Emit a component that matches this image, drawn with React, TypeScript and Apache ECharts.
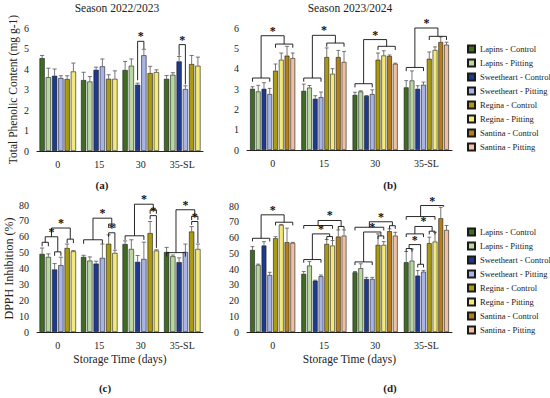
import React, { useEffect, useRef } from "react";
import * as echarts from "echarts";

const FONT = "Liberation Serif";

const categories = ["0", "15", "30", "35-SL"];
const seriesNames = [
  "Lapins - Control",
  "Lapins - Pitting",
  "Sweetheart - Control",
  "Sweetheart - Pitting",
  "Regina - Control",
  "Regina - Pitting",
  "Santina - Control",
  "Santina - Pitting",
];
const seriesColors = [
  "#3f6b22",
  "#b8d8a0",
  "#1d3a8f",
  "#a8b4e8",
  "#a99a12",
  "#f4ea78",
  "#b47f16",
  "#f2c0a0",
];

// Panel (a): Total phenolic content, season 2022/2023
const aLC = [4.53, 3.46, 3.95, 3.52];
const aLP = [3.6, 3.39, 4.16, 3.72];
const aSC = [3.67, 3.96, 3.23, 4.37];
const aSP = [3.56, 4.13, 4.67, 3.02];
const aRC = [3.51, 3.52, 3.8, 4.24];
const aRP = [3.88, 3.52, 3.85, 4.16];
const aLCe = [0.13, 0.38, 0.42, 0.16];
const aLPe = [0.44, 0.24, 0.33, 0.1];
const aSCe = [0.33, 0.13, 0.08, 0.24];
const aSPe = [0.11, 0.36, 0.29, 0.16];
const aRCe = [0.16, 0.2, 0.33, 0.42];
const aRPe = [0.41, 0.39, 0.11, 0.42];

// Panel (b): Total phenolic content, season 2023/2024
const bLC = [3.01, 2.91, 2.71, 3.08];
const bLP = [2.88, 3.07, 2.88, 3.42];
const bSC = [3.01, 2.52, 2.66, 3.01];
const bSP = [2.75, 2.6, 2.75, 3.21];
const bRC = [3.9, 4.57, 4.44, 4.49];
const bRP = [4.44, 3.75, 4.65, 4.92];
const bSaC = [4.64, 4.57, 4.62, 5.31];
const bSaP = [4.52, 4.33, 4.24, 5.18];
const bLCe = [0.1, 0.33, 0.13, 0.33];
const bLPe = [0.3, 0.1, 0.03, 0.47];
const bSCe = [0.3, 0.15, 0.02, 0.15];
const bSPe = [0.28, 0.25, 0.21, 0.13];
const bRCe = [0.33, 0.45, 0.33, 0.33];
const bRPe = [0.33, 0.25, 0.23, 0.15];
const bSaCe = [0.46, 0.33, 0.05, 0.25];
const bSaPe = [0.25, 0.52, 0.03, 0.12];

// Panel (c): DPPH inhibition, season 2022/2023
const cLC = [49.2, 47.3, 55.4, 50.4];
const cLP = [47.3, 45.0, 52.3, 47.7];
const cSC = [39.4, 43.1, 44.2, 44.0];
const cSP = [42.1, 46.7, 46.0, 50.4];
const cRC = [52.9, 55.6, 62.3, 63.3];
const cRP = [50.8, 49.8, 51.3, 52.3];
const cLCe = [3.7, 1.0, 2.0, 2.9];
const cLPe = [1.9, 2.3, 5.8, 0.8];
const cSCe = [3.7, 1.5, 4.0, 2.7];
const cSPe = [5.0, 8.7, 10.6, 5.0];
const cRCe = [2.5, 5.6, 7.3, 3.1];
const cRPe = [0.5, 1.7, 0.5, 3.1];

// Panel (d): DPPH inhibition, season 2023/2024
const dLC = [52.1, 36.9, 37.9, 44.3];
const dLP = [42.6, 42.2, 40.5, 45.3];
const dSC = [54.9, 32.6, 33.7, 35.8];
const dSP = [36.2, 35.4, 33.7, 38.3];
const dRC = [59.5, 55.9, 55.3, 56.4];
const dRP = [68.0, 54.9, 55.3, 57.4];
const dSaC = [57.0, 60.6, 64.0, 72.2];
const dSaP = [56.6, 61.2, 61.2, 64.8];
const dLCe = [2.1, 1.5, 0.5, 6.8];
const dLPe = [0.5, 2.5, 2.8, 7.4];
const dSCe = [2.5, 0.3, 1.0, 3.2];
const dSPe = [1.7, 0.8, 1.0, 0.8];
const dRCe = [1.0, 2.8, 7.0, 3.8];
const dRPe = [0.3, 3.2, 2.1, 5.9];
const dSaCe = [8.9, 4.2, 1.5, 7.0];
const dSaPe = [0.3, 3.6, 2.1, 2.8];

// Significance brackets: [category, fromBar, fromY, toBar, toY, topY, star]
const aBrackets = [
  [2, 2, 3.45, 3, 4.98, 5.35, 1],
  [3, 2, 4.65, 3, 3.25, 5.19, 1],
];
const bBrackets = [
  [0, 0, 3.36, 3, 3.36, 3.54, 0],
  [0, 4, 5.03, 7, 5.03, 5.21, 0],
  [0, 1.5, 3.54, 5.5, 5.21, 5.62, 1],
  [1, 0, 3.36, 3, 3.36, 3.54, 0],
  [1, 4, 5.08, 7, 5.08, 5.26, 0],
  [1, 1.5, 3.54, 5.5, 5.26, 5.64, 1],
  [2, 0, 3.08, 3, 3.08, 3.26, 0],
  [2, 4, 4.92, 7, 4.92, 5.1, 0],
  [2, 1.5, 3.26, 5.5, 5.1, 5.43, 1],
  [3, 0, 3.88, 3, 3.88, 4.06, 0],
  [3, 4, 5.41, 7, 5.41, 5.59, 0],
  [3, 1.5, 4.06, 5.5, 5.59, 6.0, 1],
];
const cBrackets = [
  [0, 0, 54, 1, 54, 56.5, 0],
  [0, 2, 48, 3, 48, 50.5, 0],
  [0, 0.5, 56.5, 2.5, 50.5, 60, 1],
  [0, 4, 56, 5, 56, 58.5, 0],
  [0, 1.5, 60, 4.5, 58.5, 65.5, 1],
  [1, 0, 55.6, 3, 55.6, 58.1, 0],
  [1, 4, 60, 5, 52, 62.5, 1],
  [1, 4, 65.5, 5, 65.5, 68, 0],
  [1, 1.5, 58.1, 4.5, 68, 71.7, 1],
  [2, 0, 58, 3, 58, 60.6, 0],
  [2, 4, 71, 5, 53, 73.3, 1],
  [2, 4, 74.5, 5, 74.5, 77, 0],
  [2, 1.5, 60.6, 4.5, 77, 80.5, 1],
  [3, 0, 47.5, 3, 47.5, 50, 0],
  [3, 4, 67.5, 5, 56, 69.6, 1],
  [3, 4, 70.5, 5, 70.5, 73, 0],
  [3, 1.5, 50, 4.5, 73, 77, 1],
];
const dBrackets = [
  [0, 0, 57.5, 3, 57.5, 59.5, 0],
  [0, 4, 67.7, 7, 67.7, 69.7, 0],
  [0, 1.5, 59.5, 5.5, 69.7, 74.4, 1],
  [1, 0, 44, 3, 44, 46, 0],
  [1, 4, 58.6, 5, 58.6, 60.6, 0],
  [1, 1.5, 46, 4.5, 60.6, 62.3, 1],
  [1, 0, 65.6, 5, 65.6, 67.6, 0],
  [1, 6, 65, 7, 65, 67, 0],
  [1, 2.5, 67.6, 6.5, 67, 70.8, 1],
  [2, 0, 42.5, 3, 42.5, 44.5, 0],
  [2, 4, 59, 5, 59, 61, 0],
  [2, 1.5, 44.5, 4.5, 61, 63.5, 1],
  [2, 0, 64.5, 5, 64.5, 66.5, 0],
  [2, 6, 65.5, 7, 65.5, 67.5, 0],
  [2, 2.5, 66.5, 6.5, 67.5, 70, 1],
  [3, 0, 51, 1, 51, 53, 0],
  [3, 2, 41, 3, 41, 43, 0],
  [3, 0.5, 53, 2.5, 43, 55.5, 1],
  [3, 0, 60.3, 3, 60.3, 62.3, 0],
  [3, 4, 62, 5, 62, 64, 0],
  [3, 1.5, 62.3, 4.5, 64, 67, 1],
  [3, 0, 71.3, 5, 71.3, 73.3, 0],
  [3, 2.5, 73.3, 6.5, 79.5, 80.3, 1],
];

const panels = [
  { vals: [aLC, aLP, aSC, aSP, aRC, aRP], errs: [aLCe, aLPe, aSCe, aSPe, aRCe, aRPe], brackets: aBrackets },
  { vals: [bLC, bLP, bSC, bSP, bRC, bRP, bSaC, bSaP], errs: [bLCe, bLPe, bSCe, bSPe, bRCe, bRPe, bSaCe, bSaPe], brackets: bBrackets },
  { vals: [cLC, cLP, cSC, cSP, cRC, cRP], errs: [cLCe, cLPe, cSCe, cSPe, cRCe, cRPe], brackets: cBrackets },
  { vals: [dLC, dLP, dSC, dSP, dRC, dRP, dSaC, dSaP], errs: [dLCe, dLPe, dSCe, dSPe, dRCe, dRPe, dSaCe, dSaPe], brackets: dBrackets },
];

const BAR_GAP = 0.2;
const CAT_GAP = 0.12;

function barCenter(center: number, band: number, n: number, idx: number) {
  const rem = band * (1 - CAT_GAP);
  const bw = rem / (n + (n - 1) * BAR_GAP);
  const total = bw * n + BAR_GAP * bw * (n - 1);
  return { x: center - total / 2 + idx * bw * (1 + BAR_GAP) + bw / 2, bw };
}

function buildOption() {
  const grids = [
    { left: 37, top: 28, width: 166, height: 123 },
    { left: 247, top: 28, width: 205, height: 122 },
    { left: 37, top: 205, width: 166, height: 127 },
    { left: 247, top: 206, width: 205, height: 126 },
  ];
  const series: any[] = [];
  panels.forEach((p, pi) => {
    const n = p.vals.length;
    p.vals.forEach((v, si) => {
      series.push({
        type: "bar",
        name: seriesNames[si],
        xAxisIndex: pi,
        yAxisIndex: pi,
        data: v,
        barGap: BAR_GAP * 100 + "%",
        barCategoryGap: CAT_GAP * 100 + "%",
        itemStyle: { color: seriesColors[si], borderColor: "#1a1a1a", borderWidth: 0.6 },
        z: 2,
      });
    });
    const errData: any[] = [];
    p.vals.forEach((v, si) => {
      v.forEach((val, ci) => errData.push([ci, val, p.errs[si][ci], si]));
    });
    series.push({
      type: "custom",
      xAxisIndex: pi,
      yAxisIndex: pi,
      encode: { x: 0, y: 1 },
      data: errData,
      z: 3,
      silent: true,
      itemStyle: { color: "#555" },
      renderItem: (params: any, api: any) => {
        const ci = api.value(0);
        const val = api.value(1);
        const e = api.value(2);
        const si = api.value(3);
        const base = api.coord([ci, val]);
        const top = api.coord([ci, val + e]);
        const band = api.size([1, 0])[0];
        const { x, bw } = barCenter(base[0], band, n, si);
        const cap = bw * 0.4;
        return {
          type: "group",
          children: [
            { type: "line", shape: { x1: x, y1: base[1], x2: x, y2: top[1] }, style: { stroke: "#555", lineWidth: 0.8 } },
            { type: "line", shape: { x1: x - cap, y1: top[1], x2: x + cap, y2: top[1] }, style: { stroke: "#555", lineWidth: 0.8 } },
          ],
        };
      },
    });
    series.push({
      type: "custom",
      xAxisIndex: pi,
      yAxisIndex: pi,
      encode: { x: 0, y: 5 },
      data: p.brackets,
      z: 4,
      silent: true,
      itemStyle: { color: "#111" },
      renderItem: (params: any, api: any) => {
        const ci = api.value(0);
        const b1 = api.value(1);
        const y1 = api.value(2);
        const b2 = api.value(3);
        const y2 = api.value(4);
        const t = api.value(5);
        const star = api.value(6);
        const c = api.coord([ci, t]);
        const band = api.size([1, 0])[0];
        const X1 = barCenter(c[0], band, n, b1).x;
        const X2 = barCenter(c[0], band, n, b2).x;
        const Y1 = api.coord([ci, y1])[1];
        const Y2 = api.coord([ci, y2])[1];
        const T = c[1];
        const children: any[] = [
          {
            type: "polyline",
            shape: { points: [[X1, Y1], [X1, T], [X2, T], [X2, Y2]] },
            style: { stroke: "#111", lineWidth: 0.9, fill: "none" },
          },
        ];
        if (star) {
          children.push({
            type: "text",
            x: (X1 + X2) / 2,
            y: T + 1,
            style: {
              text: "*",
              font: "bold 12px " + FONT,
              fill: "#111",
              align: "center",
              verticalAlign: "bottom",
            },
          });
        }
        return { type: "group", children };
      },
    });
  });

  const xAxis = grids.map((g, i) => ({
    type: "category",
    gridIndex: i,
    data: categories,
    axisLine: { lineStyle: { color: "#222", width: 1 } },
    axisTick: { show: false },
    axisLabel: { fontSize: 10, color: "#222", margin: 8, fontFamily: FONT },
    name: i >= 2 ? "Storage Time (days)" : "",
    nameLocation: "middle",
    nameGap: 21,
    nameTextStyle: { fontSize: 11.5, color: "#222", fontFamily: FONT },
  }));
  const yAxis = grids.map((g, i) => ({
    type: "value",
    gridIndex: i,
    min: 0,
    max: i < 2 ? 6 : 80,
    interval: i < 2 ? 1 : 10,
    axisLine: { show: false },
    axisTick: { show: false },
    splitLine: { show: false },
    axisLabel: { fontSize: 10, color: "#222", margin: 8, fontFamily: FONT },
    name: i === 0 ? "Total Phenolic Content (mg g-1)" : i === 2 ? "DPPH Inhibition (%)" : "",
    nameLocation: "middle",
    nameGap: 18,
    nameRotate: 90,
    nameTextStyle: { fontSize: i === 0 ? 11.5 : 12, color: "#222", fontFamily: FONT },
  }));

  const legendBase = {
    orient: "vertical",
    left: 462,
    itemWidth: 7,
    itemHeight: 7,
    itemGap: 4,
    icon: "rect",
    selectedMode: false,
    textStyle: { fontSize: 8.5, lineHeight: 10, color: "#222", fontFamily: FONT },
    data: seriesNames,
  };

  const txt = (text: string, x: number, y: number, size: number, bold = false) => ({
    type: "text",
    x,
    y,
    style: {
      text,
      fontSize: size,
      fontFamily: FONT,
      fontWeight: bold ? "bold" : "normal",
      fill: "#222",
      textAlign: "center",
      textVerticalAlign: "middle",
    },
  });

  return {
    animation: false,
    backgroundColor: "#ffffff",
    textStyle: { fontFamily: FONT },
    grid: grids,
    xAxis,
    yAxis,
    legend: [
      { ...legendBase, top: 39 },
      { ...legendBase, top: 222 },
    ],
    graphic: [
      txt("Season 2022/2023", 117, 8, 11.5),
      txt("Season 2023/2024", 350, 8, 11.5),
      txt("(a)", 102, 185, 11, true),
      txt("(b)", 390, 185, 11, true),
      txt("(c)", 105, 388, 11, true),
      txt("(d)", 390, 388, 11, true),
    ],
    series,
  };
}

export default function App() {
  const ref = useRef<HTMLDivElement>(null);
  useEffect(() => {
    if (!ref.current) return;
    const chart = echarts.init(ref.current, undefined, { renderer: "svg" });
    chart.setOption(buildOption() as any);
    return () => chart.dispose();
  }, []);
  return (
    <div
      ref={ref}
      style={{ position: "fixed", left: 0, top: 0, width: 550, height: 398, background: "#fff" }}
    />
  );
}
